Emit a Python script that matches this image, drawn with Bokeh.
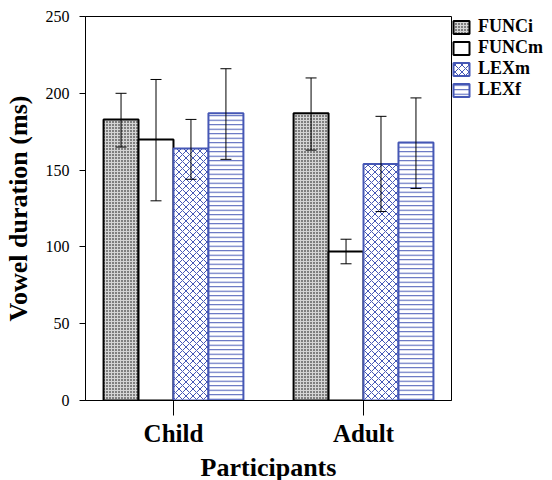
from bokeh.plotting import figure
from bokeh.models import (ColumnDataSource, Range1d, FixedTicker, Legend, LegendItem,
                          Whisker, TeeHead)
from bokeh.embed import file_html
from bokeh.resources import INLINE

# ---- data ----
categories = ["Child", "Adult"]
series = ["FUNCi", "FUNCm", "LEXm", "LEXf"]
means = {
    "FUNCi": [183, 187],
    "FUNCm": [170, 97],
    "LEXm":  [164, 154],
    "LEXf":  [187, 168],
}
upper = {
    "FUNCi": [200, 210],
    "FUNCm": [209, 105],
    "LEXm":  [183, 185],
    "LEXf":  [216, 197],
}
lower = {
    "FUNCi": [165, 163],
    "FUNCm": [130, 89],
    "LEXm":  [144, 123],
    "LEXf":  [157, 138],
}
y_ticks = [0, 50, 100, 150, 200, 250]

# ---- styles ----
BLUE = "#4557b5"
styles = {
    "FUNCi": dict(fill_color="#d4d4d4", line_color="black", hatch_pattern="dot",
                  hatch_color="black", hatch_scale=3, hatch_weight=1.2),
    "FUNCm": dict(fill_color="white", line_color="black"),
    "LEXm":  dict(fill_color="white", line_color=BLUE, hatch_pattern="diagonal_cross",
                  hatch_color=BLUE, hatch_scale=7, hatch_weight=1),
    "LEXf":  dict(fill_color="white", line_color=BLUE, hatch_pattern="horizontal_line",
                  hatch_color=BLUE, hatch_scale=4.5, hatch_weight=1),
}

FONT = "Liberation Serif"
bar_w = 0.184
centers = [i + 1 for i in range(len(categories))]

p = figure(frame_width=366, frame_height=384, output_backend="svg", toolbar_location=None,
           x_range=Range1d(0.537, 2.463), y_range=Range1d(0, 250),
           min_border_left=84, min_border_top=16, min_border_bottom=80, min_border_right=0)
p.grid.visible = False
p.outline_line_color = "black"
p.outline_line_width = 1

items = []
for k, s in enumerate(series):
    off = (k - 1.5) * bar_w
    xs = [c + off for c in centers]
    src = ColumnDataSource(dict(x=xs, top=means[s], up=upper[s], lo=lower[s]))
    r = p.vbar(x="x", top="top", bottom=0, width=bar_w, source=src, line_width=2,
               **styles[s])
    items.append(LegendItem(label=s, renderers=[r]))
    w = Whisker(base="x", upper="up", lower="lo", source=src, dimension="height",
                line_color="black", line_width=1, level="overlay",
                upper_head=TeeHead(size=11, line_color="black", line_width=1),
                lower_head=TeeHead(size=11, line_color="black", line_width=1))
    p.add_layout(w)

legend = Legend(items=items, location="top_left", margin=0, padding=2, spacing=0,
                glyph_width=20, glyph_height=16, label_height=16, label_standoff=7,
                label_text_font=FONT, label_text_font_style="bold",
                label_text_font_size="18px", label_text_color="black",
                border_line_color=None, background_fill_alpha=0)
p.add_layout(legend, "right")

# axes
for ax in (p.xaxis, p.yaxis):
    ax.axis_line_color = "black"
    ax.major_tick_line_color = "black"
    ax.major_tick_in = 0
    ax.minor_tick_line_color = None
    ax.major_label_text_color = "black"
    ax.axis_label_text_color = "black"
    ax.major_label_text_font = FONT
    ax.axis_label_text_font = FONT
    ax.axis_label_text_font_style = "bold"
    ax.axis_label_text_font_size = "26px"

p.xaxis.ticker = FixedTicker(ticks=centers)
p.xaxis.major_label_overrides = {c: n for c, n in zip(centers, categories)}
p.xaxis.major_tick_out = 15
p.xaxis.major_label_text_font_style = "bold"
p.xaxis.major_label_text_font_size = "25px"
p.xaxis.major_label_standoff = 4
p.xaxis.axis_label = "Participants"
p.xaxis.axis_label_standoff = 3

p.yaxis.ticker = FixedTicker(ticks=y_ticks)
p.yaxis.major_tick_out = 6
p.yaxis.major_label_text_font_size = "16px"
p.yaxis.major_label_standoff = 10
p.yaxis.axis_label = "Vowel duration (ms)"
p.yaxis.axis_label_standoff = 10

open("out.html", "w").write(file_html(p, INLINE))
